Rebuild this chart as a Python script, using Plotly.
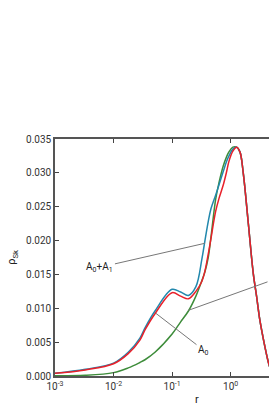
import numpy as np
import plotly.graph_objects as go

# r grid and series values
r_vals = [0.001, 0.0033, 0.01, 0.0178, 0.0282, 0.0344, 0.051, 0.1, 0.14, 0.19,
          0.255, 0.323, 0.364, 0.414, 0.461, 0.554, 0.631, 0.747, 0.854, 0.935,
          1.09, 1.26, 1.44, 1.64, 2.0, 2.43, 2.78, 3.16, 3.85, 4.38, 4.69]
a0_a1 = [0.0004, 0.0010, 0.0019, 0.0035, 0.0056, 0.0071, 0.0096, 0.0128, 0.0124, 0.0119,
         0.0132, 0.0173, 0.0200, 0.0228, 0.0247, 0.0267, 0.0282, 0.0302, 0.0317, 0.0325,
         0.0335, 0.0338, 0.0331, 0.0300, 0.0226, 0.0152, 0.0117, 0.0082, 0.0043, 0.0021, 0.0012]
a0 = [0.0004, 0.0009, 0.0018, 0.0033, 0.0053, 0.0068, 0.0092, 0.0123, 0.0118, 0.0114,
      0.0125, 0.0140, 0.0155, 0.0180, 0.0203, 0.0243, 0.0262, 0.0282, 0.0302, 0.0317,
      0.0332, 0.0338, 0.0331, 0.0300, 0.0226, 0.0152, 0.0117, 0.0082, 0.0043, 0.0021, 0.0012]
a1 = [0.00003, 0.0001, 0.0005, 0.0012, 0.0020, 0.0024, 0.0035, 0.0062, 0.0080, 0.0096,
      0.0118, 0.0141, 0.0154, 0.0175, 0.0205, 0.0261, 0.0285, 0.0310, 0.0324, 0.0331,
      0.0338, 0.0338, 0.0331, 0.0300, 0.0226, 0.0152, 0.0117, 0.0082, 0.0043, 0.0021, 0.0012]

x_tickvals = [0.001, 0.01, 0.1, 1]
x_ticktext = ["10<sup>-3</sup>", "10<sup>-2</sup>", "10<sup>-1</sup>", "10<sup>0</sup>"]
y_tickvals = [0.0, 0.005, 0.01, 0.015, 0.02, 0.025, 0.03, 0.035]
y_ticktext = ["0.000", "0.005", "0.010", "0.015", "0.020", "0.025", "0.030", "0.035"]

FONT = "Roboto"
fig = go.Figure()
line_common = dict(width=1.5, shape="spline", smoothing=1.0)
fig.add_trace(go.Scatter(x=r_vals, y=a1, mode="lines", line=dict(color="#3d8c3a", **line_common), name="A1"))
fig.add_trace(go.Scatter(x=r_vals, y=a0_a1, mode="lines", line=dict(color="#2288ad", **line_common), name="A0+A1"))
fig.add_trace(go.Scatter(x=r_vals, y=a0, mode="lines", line=dict(color="#e8202a", **line_common), name="A0"))

ann_common = dict(showarrow=True, arrowhead=0, arrowwidth=1, arrowcolor="#777777",
                  font=dict(family=FONT, size=10, color="#222222"), xref="x", yref="y")
fig.add_annotation(x=np.log10(0.364), y=0.0196, ax=-105, ay=24,
                   text="A<sub>0</sub>+A<sub>1</sub>", **ann_common)
fig.add_annotation(x=np.log10(0.052), y=0.0093, ax=48, ay=37,
                   text="A<sub>0</sub>", **ann_common)
fig.add_annotation(x=np.log10(0.19), y=0.0097, ax=110, ay=-29,
                   text="", **ann_common)
fig.add_annotation(x=0.682, y=-0.135, xref="paper", yref="paper", text="r",
                   showarrow=False, font=dict(family=FONT, size=11, color="#222222"))

fig.update_xaxes(type="log", range=[-3, 0.655], tickvals=x_tickvals, ticktext=x_ticktext,
                 ticks="inside", ticklen=4, tickcolor="#444444", showline=True, linecolor="#555555",
                 linewidth=1.6, mirror="ticks", showgrid=False, zeroline=False, automargin=False,
                 tickfont=dict(family=FONT, size=10, color="#333333"))
fig.update_yaxes(range=[0, 0.035], tickvals=y_tickvals, ticktext=y_ticktext,
                 ticks="inside", ticklen=4, tickcolor="#444444", showline=True, linecolor="#555555",
                 linewidth=1.6, showgrid=False, zeroline=False, automargin=False,
                 tickfont=dict(family=FONT, size=10, color="#333333"),
                 title=dict(text="ρ<sub>Sk</sub>", font=dict(family=FONT, size=11, color="#222222"), standoff=8))

fig.update_layout(width=269, height=420, margin=dict(l=55, r=0, t=139, b=44),
                  plot_bgcolor="white", paper_bgcolor="white", showlegend=False,
                  font=dict(family=FONT))
fig.write_html("out.html", config={"displayModeBar": False},
               post_script="document.body.style.margin='0';"
                           "document.documentElement.style.overflow='hidden';"
                           "document.body.style.overflow='hidden';")
